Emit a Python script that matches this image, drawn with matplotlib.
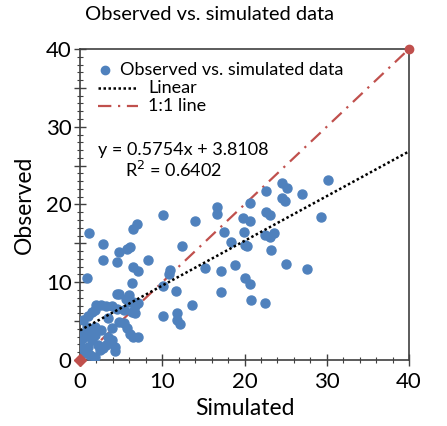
import numpy as np
import matplotlib
matplotlib.use('Agg')
import matplotlib.pyplot as plt
import matplotlib.ticker as ticker
from matplotlib.lines import Line2D

matplotlib.rc('font', family=['Lato', 'DejaVu Sans'], size=14)

# observed vs simulated pairs
simulated = [30.1, 24.5, 25.2, 22.6, 27.0, 24.5, 24.9, 20.7, 16.6, 16.6,
             22.6, 23.1, 19.8, 20.7, 29.3, 17.5, 19.9, 22.5, 23.1, 23.6,
             18.4, 20.0, 20.3, 23.2, 15.2, 17.1, 18.9, 25.1, 27.6, 20.1,
             20.7, 17.1, 20.75, 22.5,
             10.05, 14.0, 6.9, 6.4, 1.1, 2.8, 12.4, 4.7, 6.1, 5.7,
             2.8, 4.5, 8.3, 6.5, 7.1, 10.9, 10.8, 0.9, 6.3, 10.1,
             11.7, 4.5, 5.9, 5.6, 6.0, 13.6, 10.1, 11.8, 11.8, 12.2,
             6.3, 6.7,
             4.7, 6.5, 6.7, 7.1, 2.0, 2.6, 3.2, 3.9, 4.5, 5.3,
             1.4, 1.8, 1.0, 0.4, 4.7, 5.3, 3.4, 5.7, 6.1, 6.5,
             7.1, 3.9, 1.8, 2.6, 3.4, 3.9, 4.3, 4.3,
             0.8, 0.2, 0.0, 0.2, 0.6, 1.0, 1.4, 1.8, 1.2, 0.4,
             2.2, 2.8, 3.2, 1.8, 2.4, 1.2]
observed = [23.2, 22.7, 22.1, 21.7, 21.3, 20.8, 20.4, 20.2, 19.7, 18.8,
            19.0, 18.6, 18.2, 17.9, 18.4, 16.5, 16.5, 16.1, 15.8, 16.3,
            15.2, 14.8, 14.7, 14.1, 11.8, 11.4, 12.2, 12.3, 11.7, 10.5,
            9.8, 8.7, 7.7, 7.3,
            18.7, 17.9, 17.5, 16.9, 16.3, 14.9, 14.6, 13.9, 14.5, 14.3,
            12.8, 12.6, 12.8, 12.0, 11.4, 11.6, 11.1, 10.5, 9.9, 9.5,
            8.9, 8.5, 8.4, 7.9, 7.5, 7.1, 5.7, 6.1, 5.1, 4.6,
            6.2, 6.1,
            8.5, 7.5, 6.9, 7.3, 7.1, 7.1, 6.9, 6.9, 6.6, 6.4,
            6.2, 6.4, 5.6, 5.1, 4.9, 4.7, 5.4, 4.1, 3.4, 3.0,
            3.0, 4.1, 4.3, 3.9, 3.0, 2.6, 1.7, 1.1,
            4.3, 3.4, 2.4, 1.5, 0.9, 1.7, 2.6, 3.2, 3.4, 2.8,
            1.9, 1.5, 1.9, 0.4, 1.3, 0.6]

slope = 0.5754
intercept = 3.8108
r2 = 0.6402
one_to_one = [0, 40]

blue = '#4F81BD'
red = '#C0504D'
dots = (0, (1, 1))
dashdot = (0, (6, 3, 1, 3))

fig = plt.figure(figsize=(4.47, 4.26), dpi=100)
ax = fig.add_axes([0.179, 0.155, 0.736, 0.73])

ax.plot(simulated, observed, 'o', color=blue, markersize=6.5, zorder=3)
fit_x = np.array([0, 40])
ax.plot(fit_x, slope * fit_x + intercept, color='black', linestyle=dots,
        linewidth=1.8, zorder=4)
ax.plot(one_to_one, one_to_one, color=red, linestyle=dashdot,
        linewidth=1.6, zorder=2)
ax.plot(one_to_one[0], one_to_one[0], 'D', color=red, markersize=6,
        clip_on=False, zorder=5)
ax.plot(one_to_one[1], one_to_one[1], 'o', color=red, markersize=6,
        clip_on=False, zorder=5)

ax.set_xlim(0, 40)
ax.set_ylim(0, 40)
ax.xaxis.set_major_locator(ticker.MultipleLocator(10))
ax.xaxis.set_minor_locator(ticker.MultipleLocator(2))
ax.yaxis.set_major_locator(ticker.MultipleLocator(5))
ax.yaxis.set_minor_locator(ticker.MultipleLocator(1))
ax.yaxis.set_major_formatter(ticker.FuncFormatter(
    lambda v, p: '%d' % v if v % 10 == 0 else ''))
ax.tick_params(which='major', direction='inout', length=8, width=1,
               color='#404040', labelsize=16)
ax.tick_params(axis='x', which='major', pad=5)
ax.tick_params(axis='y', which='major', pad=2)
ax.tick_params(which='minor', direction='inout', length=4, width=0.8,
               color='#404040')
for s in ax.spines.values():
    s.set_color('#404040')
    s.set_linewidth(1.2)

ax.set_xlabel('Simulated', fontsize=16.5, labelpad=4)
ax.set_ylabel('Observed', fontsize=16.5, labelpad=8)
fig.text(0.468, 0.965, 'Observed vs. simulated data', fontsize=14.5,
         ha='center', va='center')

# legend drawn by hand to follow the spreadsheet layout
ax.add_line(Line2D([0.076], [0.932], marker='o', color=blue, markersize=6,
                   transform=ax.transAxes, clip_on=False))
ax.text(0.122, 0.932, 'Observed vs. simulated data', transform=ax.transAxes,
        fontsize=13, va='center')
ax.add_line(Line2D([0.055, 0.176], [0.875, 0.875], color='black',
                   linestyle=dots, linewidth=1.8, transform=ax.transAxes))
ax.text(0.207, 0.875, 'Linear', transform=ax.transAxes, fontsize=13,
        va='center')
ax.add_line(Line2D([0.055, 0.176], [0.817, 0.817], color=red,
                   linestyle=dashdot, linewidth=1.6, transform=ax.transAxes))
ax.text(0.207, 0.817, '1:1 line', transform=ax.transAxes, fontsize=13,
        va='center')

ax.text(0.055, 0.675, 'y = %.4fx + %.4f' % (slope, intercept),
        transform=ax.transAxes, fontsize=13, va='center')
ax.text(0.137, 0.611, 'R$^2$ = %.4f' % r2, transform=ax.transAxes,
        fontsize=13, va='center')

fig.savefig('out.png', dpi=100)
